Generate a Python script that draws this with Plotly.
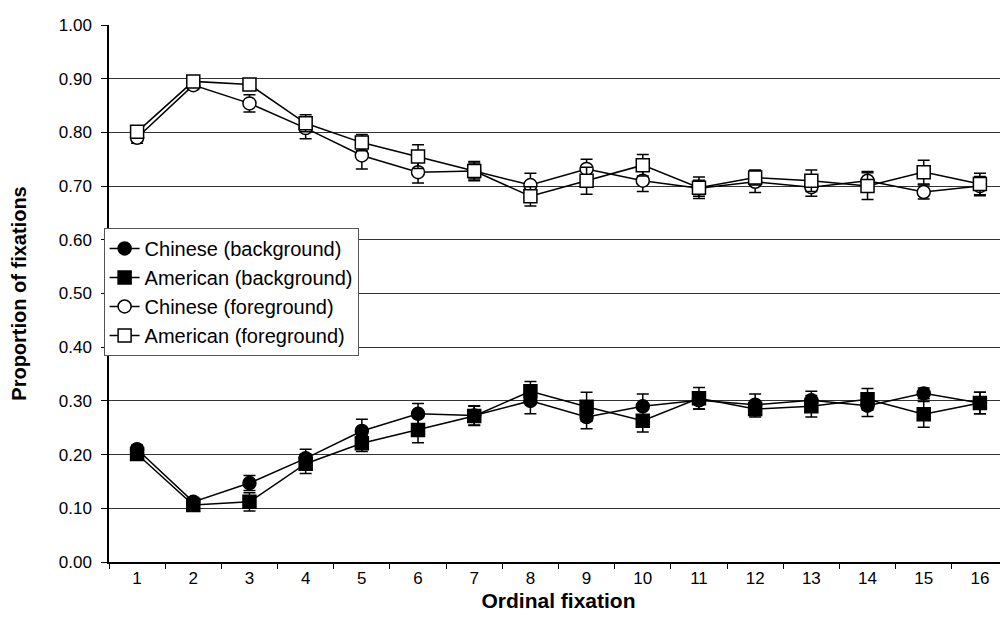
import plotly.graph_objects as go

categories = [str(i) for i in range(1, 17)]

chinese_bg = [0.210, 0.112, 0.147, 0.193, 0.244, 0.276, 0.273, 0.300, 0.270, 0.290, 0.301, 0.293, 0.301, 0.291, 0.314, 0.296]
american_bg = [0.201, 0.106, 0.112, 0.183, 0.221, 0.246, 0.272, 0.318, 0.289, 0.263, 0.305, 0.285, 0.290, 0.303, 0.275, 0.296]
chinese_fg = [0.790, 0.888, 0.854, 0.808, 0.757, 0.726, 0.728, 0.702, 0.732, 0.710, 0.696, 0.708, 0.698, 0.710, 0.689, 0.700]
american_fg = [0.801, 0.895, 0.889, 0.817, 0.781, 0.755, 0.728, 0.681, 0.710, 0.739, 0.697, 0.716, 0.710, 0.700, 0.726, 0.704]

err_chinese_bg = [0.008, 0.008, 0.014, 0.017, 0.022, 0.019, 0.018, 0.024, 0.022, 0.023, 0.016, 0.020, 0.017, 0.020, 0.010, 0.020]
err_american_bg = [0.008, 0.008, 0.017, 0.018, 0.015, 0.024, 0.018, 0.018, 0.027, 0.021, 0.020, 0.015, 0.020, 0.020, 0.024, 0.020]
err_chinese_fg = [0.010, 0.008, 0.016, 0.020, 0.025, 0.020, 0.015, 0.022, 0.018, 0.020, 0.015, 0.020, 0.017, 0.017, 0.013, 0.018]
err_american_fg = [0.008, 0.008, 0.010, 0.016, 0.015, 0.022, 0.018, 0.018, 0.025, 0.020, 0.020, 0.014, 0.020, 0.025, 0.022, 0.020]

y_ticks = [0.0, 0.1, 0.2, 0.3, 0.4, 0.5, 0.6, 0.7, 0.8, 0.9, 1.0]

FONT = "Liberation Sans, Arial, Helvetica, sans-serif"

series = [
    ("Chinese (background)", chinese_bg, err_chinese_bg, "circle", "black"),
    ("American (background)", american_bg, err_american_bg, "square", "black"),
    ("Chinese (foreground)", chinese_fg, err_chinese_fg, "circle", "white"),
    ("American (foreground)", american_fg, err_american_fg, "square", "white"),
]

fig = go.Figure()
for name, vals, errs, sym, fill in series:
    fig.add_trace(go.Scatter(
        x=categories, y=vals, name=name, mode="lines+markers",
        line=dict(color="black", width=1.5),
        marker=dict(symbol=sym, size=13, color=fill, line=dict(color="black", width=1.5)),
        error_y=dict(type="data", array=errs, visible=True, color="black", thickness=1.5, width=6),
    ))

fig.update_layout(
    width=1008, height=624,
    margin=dict(l=101, r=8, t=12, b=70),
    paper_bgcolor="white", plot_bgcolor="white",
    font=dict(family=FONT, size=17, color="black"),
    showlegend=True,
    legend=dict(
        x=-0.006, y=0.622, xanchor="left", yanchor="top",
        bgcolor="white", bordercolor="#555555", borderwidth=1,
        font=dict(family=FONT, size=20, color="black"),
        tracegroupgap=0,
    ),
    xaxis=dict(
        type="category", range=[-0.5, 15.5],
        showline=True, linecolor="black", linewidth=1.5,
        showgrid=False,
        ticks="outside", tickson="boundaries", ticklen=5, tickcolor="black",
        tickfont=dict(size=17),
        title=dict(text="<b>Ordinal fixation</b>", font=dict(size=21), standoff=6),
        zeroline=False,
    ),
    yaxis=dict(
        range=[0, 1.0], tickvals=y_ticks, tickformat=".2f",
        showline=True, linecolor="black", linewidth=1.5,
        showgrid=True, gridcolor="#333333", gridwidth=1,
        ticks="outside", ticklen=6, tickcolor="black",
        tickfont=dict(size=17), ticklabelstandoff=6,
        title=dict(text="<b>Proportion of fixations</b>", font=dict(size=20), standoff=28),
        zeroline=False,
    ),
)

fig.write_html("out.html")
